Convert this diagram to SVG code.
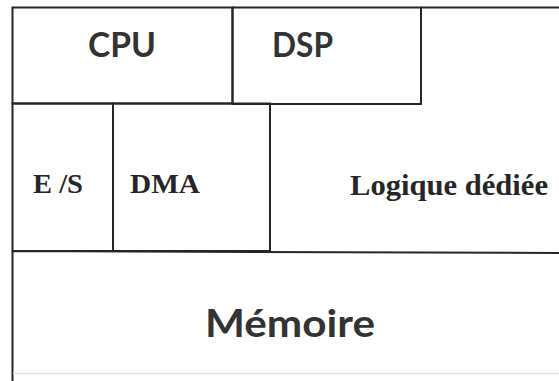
<svg xmlns="http://www.w3.org/2000/svg" width="559" height="381" viewBox="0 0 559 381">
  <style>
    .edge { fill: none; stroke: #262626; stroke-width: 2; }
    .faint { fill: none; stroke: #e0e0e0; stroke-width: 1.5; }
    .sans { font-family: Lato, "Open Sans", "Liberation Sans", sans-serif; font-weight: bold; fill: #333333; }
    .serif { font-family: "Liberation Serif", "Times New Roman", serif; font-weight: bold; fill: #262626; }
  </style>
  <rect width="559" height="381" fill="#ffffff"/>

  <!-- processors row -->
  <g id="cpu">
    <rect class="edge" x="12.5" y="7.5" width="220" height="96"/>
    <text class="sans" x="122" y="57" font-size="35" text-anchor="middle" textLength="68" lengthAdjust="spacingAndGlyphs">CPU</text>
  </g>
  <g id="dsp">
    <rect class="edge" x="232.5" y="7.5" width="188.5" height="96.5"/>
    <text class="sans" x="302.5" y="57" font-size="35" text-anchor="middle" textLength="61" lengthAdjust="spacingAndGlyphs">DSP</text>
  </g>

  <!-- peripherals row -->
  <g id="es">
    <rect class="edge" x="12.5" y="103.5" width="100.5" height="147.5"/>
    <text class="serif" x="33" y="193" font-size="28" textLength="50" lengthAdjust="spacingAndGlyphs">E /S</text>
  </g>
  <g id="dma">
    <rect class="edge" x="113" y="103.5" width="157" height="147.5"/>
    <text class="serif" x="130" y="193" font-size="28" textLength="70" lengthAdjust="spacingAndGlyphs">DMA</text>
  </g>
  <g id="logique">
    <path class="edge" d="M270 251 V104 H421 M421 7.5 H559"/>
    <text class="serif" x="350" y="195" font-size="30" textLength="198" lengthAdjust="spacingAndGlyphs">Logique dédiée</text>
  </g>

  <!-- memory -->
  <g id="memoire">
    <path class="edge" d="M12.5 251 V381 M12.5 251 L559 253"/>
    <line class="faint" x1="13" y1="373.5" x2="559" y2="373.5"/>
    <text class="sans" x="290" y="337" font-size="38" text-anchor="middle" textLength="170" lengthAdjust="spacingAndGlyphs">Mémoire</text>
  </g>

  <!-- no connectors in this layout -->
  <g id="connectors"/>
</svg>
